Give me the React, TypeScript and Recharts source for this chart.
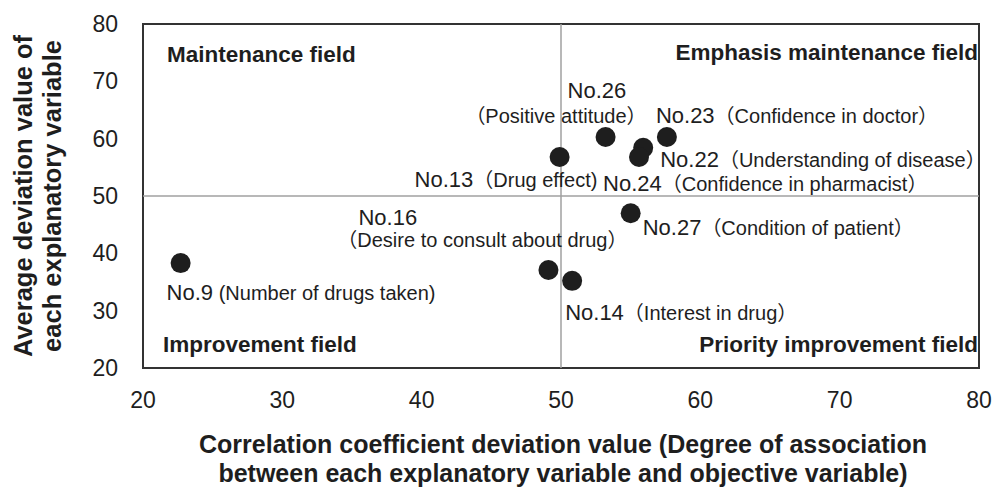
import { ScatterChart, Scatter, XAxis, YAxis, ReferenceArea, ReferenceLine, Label } from 'recharts';

const itemNos = ['No.9', 'No.13', 'No.26', 'No.23', 'No.22', 'No.24', 'No.27', 'No.16', 'No.14'];
const itemNames = [
  ' (Number of drugs taken)',
  '（Drug effect)',
  '（Positive attitude）',
  '（Confidence in doctor）',
  '（Understanding of disease）',
  '（Confidence in pharmacist）',
  '（Condition of patient）',
  '（Desire to consult about drug）',
  '（Interest in drug）',
];
const correlationDev = [22.7, 49.9, 53.2, 57.6, 55.9, 55.6, 55.0, 49.1, 50.8];
const averageDev = [38.3, 56.8, 60.3, 60.3, 58.4, 56.8, 47.0, 37.1, 35.2];
const axisTicks = [20, 30, 40, 50, 60, 70, 80];
const fieldNames = ['Maintenance field', 'Emphasis maintenance field', 'Improvement field', 'Priority improvement field'];
const xTitle = ['Correlation coefficient deviation value (Degree of association', 'between each explanatory variable and objective variable)'];
const yTitle = ['Average deviation value of', 'each explanatory variable'];

const points = itemNos.map((no, i) => ({ no, name: itemNames[i], x: correlationDev[i], y: averageDev[i] }));

const FONT = "'Liberation Sans', Arial, 'Noto Sans CJK JP', sans-serif";
const INK = '#1e1e1e';

// label placement relative to the dot centre
const labelPos: Record<string, { dx: number; dy: number; dx2?: number; dy2?: number }> = {
  'No.9': { dx: -14, dy: 37 },
  'No.13': { dx: -145, dy: 30 },
  'No.26': { dx: -38, dy: -39, dx2: 41, dy2: -14 },
  'No.23': { dx: -11, dy: -14 },
  'No.22': { dx: 17, dy: 19 },
  'No.24': { dx: -36, dy: 34 },
  'No.27': { dx: 12, dy: 22 },
  'No.16': { dx: -190, dy: -45, dx2: 79, dy2: -23 },
  'No.14': { dx: -7, dy: 39 },
};

const Dot = (props: any) => {
  const { cx, cy, payload } = props;
  const p = labelPos[payload.no];
  return (
    <g>
      <circle cx={cx} cy={cy} r={10} fill={INK} />
      {p.dx2 === undefined ? (
        <text x={cx + p.dx} y={cy + p.dy} fill={INK} fontFamily={FONT}>
          <tspan fontSize={22}>{payload.no}</tspan>
          <tspan fontSize={20}>{payload.name}</tspan>
        </text>
      ) : (
        <g fill={INK} fontFamily={FONT}>
          <text x={cx + p.dx} y={cy + p.dy} fontSize={22}>{payload.no}</text>
          <text x={cx + p.dx2} y={cy + (p.dy2 ?? 0)} fontSize={20} textAnchor="end">{payload.name}</text>
        </g>
      )}
    </g>
  );
};

const fieldLabel = (text: string, corner: string) => (props: any) => {
  const { x, y, width, height } = props.viewBox;
  const left = corner.endsWith('l');
  const top = corner.startsWith('t');
  const tx = left ? x + (top ? 24 : 20) : x + width - 1;
  const ty = top ? y + (left ? 38 : 36) : y + height - 16;
  return (
    <text x={tx} y={ty} textAnchor={left ? 'start' : 'end'} fontSize={22.5} fontWeight="bold" fill={INK} fontFamily={FONT}>
      {text}
    </text>
  );
};

const XTitle = (props: any) => {
  const { x, y, width } = props.viewBox;
  return (
    <g fontSize={25} fontWeight="bold" fill={INK} fontFamily={FONT} textAnchor="middle">
      <text x={x + width / 2 + 2} y={y + 85}>{xTitle[0]}</text>
      <text x={x + width / 2 + 2} y={y + 114}>{xTitle[1]}</text>
    </g>
  );
};

const YTitle = (props: any) => {
  const { y, height } = props.viewBox;
  const cy = y + height / 2;
  return (
    <g fontSize={25.5} fontWeight="bold" fill={INK} fontFamily={FONT} textAnchor="middle">
      <text x={32} y={cy} transform={`rotate(-90, 32, ${cy})`}>{yTitle[0]}</text>
      <text x={61} y={cy} transform={`rotate(-90, 61, ${cy})`}>{yTitle[1]}</text>
    </g>
  );
};

export default function App() {
  return (
    <div style={{ position: 'absolute', left: 0, top: 0, background: '#fff' }}>
      <ScatterChart width={994} height={488} margin={{ top: 24, right: 15, bottom: 0, left: 0 }}>
        <XAxis
          type="number" dataKey="x" domain={[20, 80]} ticks={axisTicks} height={120}
          axisLine={false} tickLine={false} tickSize={18} tickMargin={6}
          tick={{ fontSize: 23, fill: INK, fontFamily: FONT }}
        >
          <Label content={XTitle} />
        </XAxis>
        <YAxis
          type="number" dataKey="y" domain={[20, 80]} ticks={axisTicks} width={143}
          axisLine={false} tickLine={false} tickSize={20} tickMargin={5}
          tick={{ fontSize: 23, fill: INK, fontFamily: FONT }}
        >
          <Label content={YTitle} />
        </YAxis>
        <ReferenceLine x={50} stroke="#a0a0a0" strokeWidth={1.5} />
        <ReferenceLine y={50} stroke="#a0a0a0" strokeWidth={1.5} />
        <ReferenceArea x1={20} x2={50} y1={50} y2={80} fill="none" label={fieldLabel(fieldNames[0], 'tl')} />
        <ReferenceArea x1={50} x2={80} y1={50} y2={80} fill="none" label={fieldLabel(fieldNames[1], 'tr')} />
        <ReferenceArea x1={20} x2={50} y1={20} y2={50} fill="none" label={fieldLabel(fieldNames[2], 'bl')} />
        <ReferenceArea x1={50} x2={80} y1={20} y2={50} fill="none" label={fieldLabel(fieldNames[3], 'br')} />
        <ReferenceArea x1={20} x2={80} y1={20} y2={80} fill="none" stroke="#333" strokeWidth={2} />
        <Scatter data={points} shape={Dot} isAnimationActive={false} />
      </ScatterChart>
    </div>
  );
}
